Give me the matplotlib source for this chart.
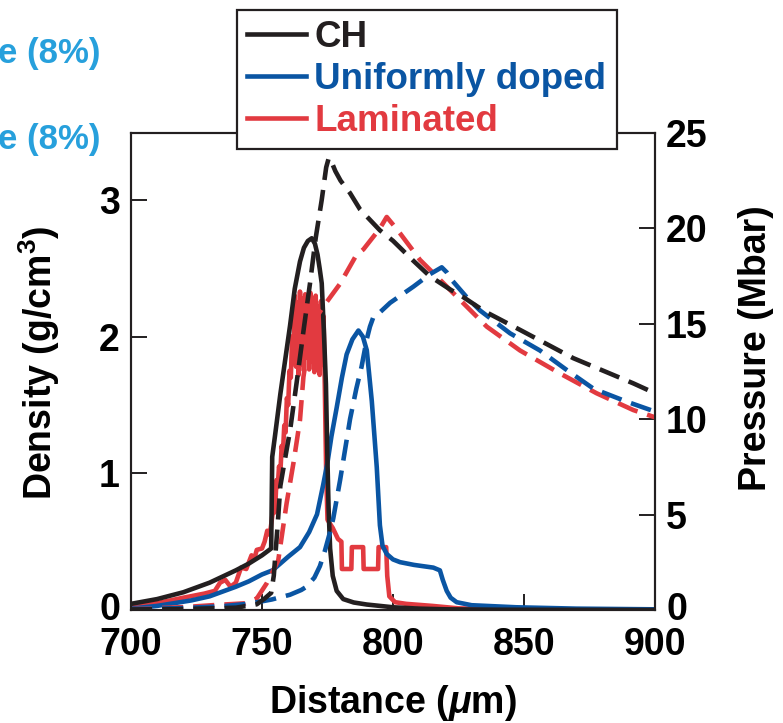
import matplotlib
matplotlib.use('Agg')
import matplotlib.pyplot as plt
from matplotlib.lines import Line2D
from matplotlib.transforms import ScaledTranslation

plt.rcParams['font.family'] = ['Liberation Sans', 'DejaVu Sans']
plt.rcParams['font.weight'] = 'bold'
plt.rcParams['mathtext.fontset'] = 'custom'
plt.rcParams['mathtext.rm'] = 'Liberation Sans:bold'
plt.rcParams['mathtext.it'] = 'Liberation Sans:bold:italic'
plt.rcParams['mathtext.bf'] = 'Liberation Sans:bold'

# ---- density (g/cm3), solid lines ----
ch_x = [700, 710, 720, 730, 740, 745, 750, 753.5, 753.9, 755, 757, 759, 760.7, 762.5,
        764.5, 766, 767.5, 769, 770.2, 771.2, 772, 772.8, 773.6, 774.4, 774.9, 775.4,
        776, 777, 778.5, 781, 785, 790, 800, 810, 820, 840, 870, 900]
ch_rho = [0.045, 0.08, 0.13, 0.20, 0.29, 0.34, 0.40, 0.45, 1.12, 1.28, 1.58, 1.85, 2.08, 2.35,
          2.55, 2.65, 2.70, 2.72, 2.68, 2.60, 2.50, 2.39, 2.05, 1.65, 1.17, 0.75,
          0.45, 0.25, 0.14, 0.08, 0.055, 0.04, 0.02, 0.01, 0.005, 0.002, 0.001, 0.0]

uni_x = [700, 710, 723, 730, 740, 745, 750, 754, 757, 760, 764.5, 768, 771, 773.4, 775,
         776.5, 778.5, 780.5, 782.3, 784.5, 786.8, 788.5, 790, 791.9, 793, 793.8, 795,
         796, 797.6, 800, 802.7, 808, 815.4, 817.9, 819, 820.5, 822, 824.3, 830, 847, 870, 900]
uni_rho = [0.01, 0.03, 0.07, 0.10, 0.17, 0.21, 0.26, 0.29, 0.34, 0.39, 0.46, 0.57, 0.70, 0.92, 1.08,
           1.27, 1.48, 1.70, 1.87, 1.98, 2.045, 2.00, 1.90, 1.53, 1.25, 1.045, 0.62,
           0.47, 0.41, 0.37, 0.35, 0.33, 0.31, 0.29, 0.22, 0.14, 0.09, 0.057, 0.035, 0.02, 0.01, 0.005]

lam_x = [700, 710, 720, 728, 732, 734, 736, 738, 740, 742, 744, 746, 747, 748, 750, 751, 752,
         753, 754, 755, 755.5, 756, 756.5, 757, 757.5, 758, 758.5, 759, 759.5, 760, 760.5,
         761, 761.5, 762,
         762.5, 763, 763.5, 764, 764.5, 765, 765.5, 766, 766.5, 767, 767.5, 768, 768.5,
         769, 769.5, 770, 770.5, 771, 771.5, 772, 772.5, 773, 773.5,
         774, 774.5, 775, 777, 779, 780.3, 780.5, 784.1, 784.3, 788.6, 788.8, 794.3, 794.5,
         797.4, 797.8, 798.6, 800.8, 805, 815, 825, 840, 900]
lam_rho = [0.03, 0.05, 0.09, 0.12, 0.14, 0.20, 0.22, 0.17, 0.20, 0.31, 0.30, 0.40, 0.37, 0.44,
           0.45, 0.50, 0.58, 0.55, 0.70, 0.72, 0.95, 0.90, 1.05, 1.00, 1.20, 1.15, 1.35, 1.30,
           1.55, 1.50, 1.75, 1.70, 2.00, 1.85,
           2.30, 1.78, 2.25, 1.72, 2.33, 1.80, 2.28, 1.75, 2.31, 1.85, 2.24, 1.76, 2.32,
           1.82, 2.27, 1.74, 2.30, 1.79, 2.22, 1.72, 2.26, 1.80, 2.15,
           1.60, 1.00, 0.66, 0.60, 0.52, 0.50, 0.30, 0.30, 0.46, 0.46, 0.30, 0.30, 0.46,
           0.46, 0.25, 0.10, 0.057, 0.045, 0.03, 0.012, 0.005, 0.0]

# ---- pressure (Mbar), dashed lines ----
ch_px = [700, 720, 740, 748, 751, 753.5, 754.5, 756, 757, 759.4, 760.7, 763.2, 766, 768.3,
         770.5, 772.8, 774.5, 775.5, 776.5, 778, 780, 783.6, 787.4, 795, 800, 807.8, 814,
         821.8, 826.8, 835, 848.5, 868.8, 891.7, 900]
ch_p = [0.03, 0.05, 0.12, 0.3, 0.6, 0.9, 1.8, 4.5, 6.5, 8.4, 9.4, 11.9, 14.8, 17.1,
        19.5, 21.5, 23.2, 23.7, 23.5, 23.0, 22.5, 21.85, 21.0, 19.9, 19.35, 18.3, 17.5,
        16.8, 16.4, 15.65, 14.68, 13.2, 11.88, 11.36]

uni_px = [700, 720, 735, 745, 749, 753.7, 760.7, 765, 767, 770, 772.1, 774, 776, 777.2,
          779.8, 782.3, 783.6, 786, 788, 790, 791.2, 792.5, 795, 798.9, 807.8, 814.1,
          818.6, 820.5, 822.4, 828.1, 833.2, 844.7, 856.1, 866.3, 876.5, 889.2, 900]
uni_p = [0.05, 0.1, 0.2, 0.33, 0.43, 0.55, 0.8, 1.05, 1.22, 1.7, 2.3, 3.1, 4.1, 4.8,
         6.8, 8.9, 10.0, 11.6, 12.75, 14.2, 14.85, 15.35, 15.6, 16.1, 16.95, 17.6,
         17.96, 17.7, 17.3, 16.4, 15.7, 14.5, 13.6, 12.58, 11.6, 10.92, 10.4]

lam_px = [700, 720, 732, 743.5, 748, 751.8, 756.2, 759.4, 762, 764.5, 765.8, 767.5, 769.6,
          771.5, 773.4, 779.8, 786, 788.7, 795, 797.6, 800, 802.7, 810.3, 818, 825.6,
          835.8, 848.5, 863.7, 877.7, 891.7, 900]
lam_p = [0.05, 0.15, 0.26, 0.35, 0.6, 1.4, 2.6, 5.6, 7.7, 9.96, 12.2, 13.8, 15.0,
         15.5, 15.9, 17.1, 18.6, 18.9, 20.0, 20.6, 20.2, 19.74, 18.35, 17.3, 16.25,
         14.85, 13.6, 12.4, 11.36, 10.48, 10.1]

labels = ['CH', 'Uniformly doped', 'Laminated']
colors = ['#231f20', '#0a55a3', '#e23a40']
cut_text = ['e (8%)', 'e (8%)']

fig = plt.figure(figsize=(7.83, 7.23), dpi=100)
ax = fig.add_axes([131 / 783, 1 - 610 / 723, 524 / 783, 477 / 723])
ax2 = ax.twinx()

lw = 3.3
dash = (4.6, 2.2)
ax.plot(lam_x, lam_rho, color=colors[2], lw=lw)
ax.plot(uni_x, uni_rho, color=colors[1], lw=lw)
ax.plot(ch_x, ch_rho, color=colors[0], lw=lw)

ax2.plot(lam_px, lam_p, color=colors[2], lw=lw, ls='--', dashes=dash)
ax2.plot(uni_px, uni_p, color=colors[1], lw=lw, ls='--', dashes=dash)
ax2.plot(ch_px, ch_p, color=colors[0], lw=lw, ls='--', dashes=dash)

ax.set_xlim(700, 900)
ax.set_ylim(0, 3.49)
ax2.set_ylim(0, 25)
ax.set_xticks([700, 750, 800, 850, 900])
ax.set_yticks([0, 1, 2, 3])
ax2.set_yticks([0, 5, 10, 15, 20, 25])

for a in (ax, ax2):
    for s in a.spines.values():
        s.set_linewidth(1.5)
        s.set_color('#231f20')
ax.tick_params(axis='both', direction='in', length=11.5, width=1.4, labelsize=27,
               pad=8, top=True, color='#231f20')
ax.tick_params(axis='x', pad=12.5)
ax.tick_params(axis='y', right=False)
ax2.tick_params(axis='y', direction='in', length=11.5, width=1.4, labelsize=27, pad=8,
                color='#231f20')
# zero labels sit a little above the baseline in the original
lift = ScaledTranslation(0, 3.5 / 100, fig.dpi_scale_trans)
for lab in ax.get_yticklabels() + ax2.get_yticklabels():
    if lab.get_text() == '0':
        lab.set_transform(lab.get_transform() + lift)

fig.text(393 / 783, 1 - 703 / 723, r'Distance ($\mu$m)', ha='center', va='center', fontsize=27)
fig.text(39 / 783, 1 - 363 / 723, r'Density (g/cm$^3$)', rotation=90, ha='center',
         va='center', fontsize=27)
fig.text(756 / 783, 1 - 348 / 723, 'Pressure (Mbar)', rotation=90, ha='center',
         va='center', fontsize=27)

fig.text(100 / 783, 1 - 54 / 723, cut_text[0], ha='right', va='center', color='#27a0dc',
         fontsize=25)
fig.text(100 / 783, 1 - 139 / 723, cut_text[1], ha='right', va='center', color='#27a0dc',
         fontsize=25)

handles = [Line2D([], [], color=c, lw=lw) for c in colors]
leg = fig.legend(handles, labels, loc='upper left', bbox_to_anchor=(237 / 783, 1 - 10 / 723),
                 fontsize=26.5, frameon=True, fancybox=False, framealpha=1,
                 edgecolor='#231f20', handlelength=1.6, handletextpad=0.22,
                 labelspacing=0.18, borderpad=0.28, borderaxespad=0, labelcolor=colors)
leg.get_frame().set_linewidth(1.6)

fig.savefig('out.png', dpi=100)
